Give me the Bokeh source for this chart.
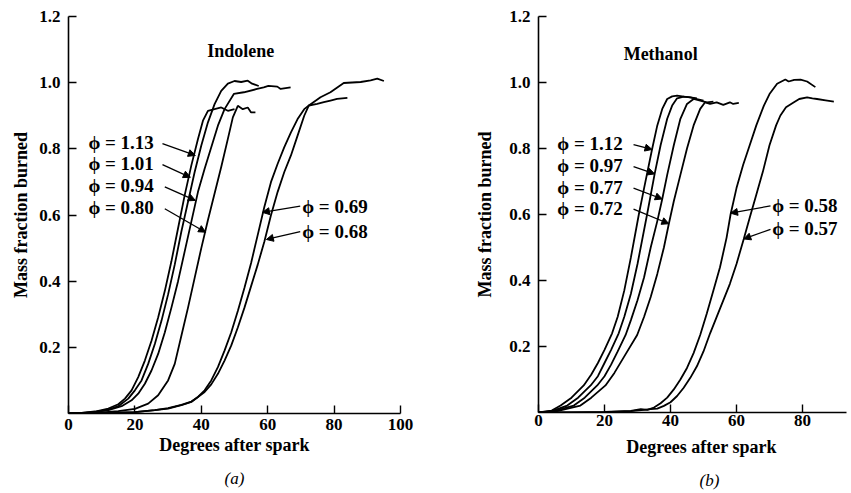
from bokeh.plotting import figure
from bokeh.layouts import row
from bokeh.models import (Arrow, NormalHead, Label, FixedTicker, Range1d,
                          LinearAxis, PrintfTickFormatter)
from bokeh.embed import file_html
from bokeh.resources import INLINE

FONT = "Liberation Serif"

# ---------------- Panel (a): Indolene ----------------
ind_113_deg = [0, 4, 8, 12, 15, 17, 19, 21, 23, 25, 27, 29, 31, 33, 35, 37, 39, 40.5, 42, 44, 46, 48, 50]
ind_113_mfb = [0, 0.002, 0.006, 0.015, 0.028, 0.045, 0.07, 0.11, 0.16, 0.22, 0.29, 0.37, 0.46, 0.56, 0.66, 0.75, 0.83, 0.885, 0.915, 0.92, 0.925, 0.915, 0.92]

ind_101_deg = [0, 4, 8, 12, 15, 18, 20, 22, 24, 26, 28, 30, 32, 34, 36, 38, 40, 42, 44, 46, 48, 50, 52, 54, 55.3, 57.3]
ind_101_mfb = [0, 0.002, 0.005, 0.012, 0.022, 0.045, 0.07, 0.1, 0.15, 0.21, 0.28, 0.36, 0.45, 0.55, 0.64, 0.73, 0.81, 0.88, 0.935, 0.975, 0.997, 1.005, 1.002, 1.006, 0.997, 0.99]

ind_094_deg = [0, 4, 8, 12, 16, 19, 21, 23, 25, 27, 29, 31, 33, 35, 37, 39, 41, 43, 45, 47, 49.8, 52.8, 56.8, 58.8, 60.2, 62.9, 63.9, 66.9]
ind_094_mfb = [0, 0.001, 0.004, 0.01, 0.022, 0.04, 0.06, 0.09, 0.13, 0.18, 0.245, 0.32, 0.4, 0.49, 0.58, 0.67, 0.74, 0.805, 0.87, 0.92, 0.966, 0.971, 0.981, 0.986, 0.99, 0.988, 0.981, 0.986]

ind_080_deg = [0, 5, 10, 15, 20, 24, 27, 30, 32, 34, 36, 38, 40, 42, 44, 46, 48, 49.5, 51, 52.5, 54, 55, 56.3]
ind_080_mfb = [0, 0.001, 0.003, 0.007, 0.014, 0.03, 0.055, 0.1, 0.15, 0.235, 0.32, 0.41, 0.5, 0.585, 0.665, 0.745, 0.83, 0.895, 0.93, 0.92, 0.925, 0.91, 0.91]

ind_069_deg = [0, 10, 20, 26, 30, 34, 37, 39, 41, 43, 45, 47, 49, 51, 53, 55, 57, 59, 61, 63, 65, 67, 69, 71, 72.4, 74.9, 76.9, 78.9, 80.9, 84]
ind_069_mfb = [0, 0.001, 0.004, 0.01, 0.015, 0.025, 0.035, 0.05, 0.07, 0.1, 0.14, 0.19, 0.245, 0.31, 0.38, 0.455, 0.54, 0.625, 0.7, 0.755, 0.805, 0.85, 0.89, 0.92, 0.931, 0.936, 0.941, 0.946, 0.951, 0.954]

ind_068_deg = [0, 10, 20, 26, 30, 34, 37, 39, 41, 43, 45, 47, 49, 51, 53, 55, 57, 59, 61, 63, 65, 67, 69, 71, 72.4, 75.9, 78.9, 82.9, 88, 91, 93, 95]
ind_068_mfb = [0, 0.001, 0.004, 0.01, 0.016, 0.026, 0.036, 0.05, 0.065, 0.088, 0.12, 0.16, 0.205, 0.26, 0.32, 0.385, 0.45, 0.52, 0.6, 0.67, 0.73, 0.78, 0.84, 0.9, 0.931, 0.956, 0.971, 0.999, 1.002, 1.007, 1.012, 1.005]

# ---------------- Panel (b): Methanol ----------------
met_112_deg = [0, 4, 6.7, 10, 13.7, 16, 18, 20, 22.3, 24, 26, 28, 30.4, 32, 34.4, 36, 37.5, 39, 40.5, 42, 44, 46, 48]
met_112_mfb = [0, 0.006, 0.021, 0.045, 0.082, 0.115, 0.15, 0.19, 0.24, 0.29, 0.37, 0.47, 0.6, 0.68, 0.797, 0.87, 0.92, 0.95, 0.958, 0.96, 0.957, 0.955, 0.952]

met_097_deg = [0, 4, 8.7, 12, 15.8, 18, 20, 22, 24.3, 26, 28, 30, 32.9, 35.2, 37, 39, 40.5, 42, 44, 46, 48, 50]
met_097_mfb = [0, 0.004, 0.021, 0.045, 0.082, 0.11, 0.15, 0.19, 0.24, 0.29, 0.36, 0.45, 0.6, 0.723, 0.81, 0.89, 0.93, 0.952, 0.957, 0.955, 0.95, 0.945]

met_077_deg = [0, 4, 10.7, 14, 17.8, 20, 22, 24, 26.4, 28, 30, 32, 34, 36, 37.5, 39, 41, 43, 45, 47, 49, 51, 53]
met_077_mfb = [0, 0.003, 0.021, 0.045, 0.082, 0.11, 0.145, 0.185, 0.235, 0.28, 0.34, 0.41, 0.5, 0.58, 0.647, 0.72, 0.81, 0.89, 0.935, 0.95, 0.945, 0.94, 0.942]

met_072_deg = [0, 5, 12.7, 16, 20.3, 23, 26, 29.9, 32, 34, 36, 38, 39.5, 41, 43, 45, 47, 49, 50.5, 52, 54, 56, 58, 59, 60.7]
met_072_mfb = [0, 0.003, 0.021, 0.045, 0.082, 0.12, 0.17, 0.235, 0.29, 0.35, 0.42, 0.5, 0.572, 0.64, 0.72, 0.8, 0.87, 0.92, 0.94, 0.935, 0.94, 0.932, 0.94, 0.935, 0.938]

met_058_deg = [0, 10, 20, 28, 31, 33, 35, 37, 39, 41, 43, 45, 47, 49, 51, 53, 55, 57, 58.2, 60, 62, 64, 66, 68.3, 70, 72.3, 74.8, 75.8, 77.5, 79.4, 81.4, 83.9]
met_058_mfb = [0, 0, 0.002, 0.005, 0.01, 0.008, 0.015, 0.028, 0.045, 0.07, 0.1, 0.135, 0.18, 0.235, 0.3, 0.37, 0.44, 0.53, 0.6, 0.68, 0.75, 0.81, 0.87, 0.93, 0.965, 0.996, 1.009, 1.003, 1.008, 1.009, 1.003, 0.986]

met_057_deg = [0, 20, 28, 32, 34, 36, 38, 40, 42, 44, 46, 48, 50, 52, 54, 56, 58, 60, 62.2, 64, 66, 68, 70, 72, 73.3, 75, 77.4, 79, 81.4, 83, 84.4, 87, 89.5]
met_057_mfb = [0, 0.001, 0.004, 0.008, 0.01, 0.012, 0.02, 0.031, 0.05, 0.075, 0.105, 0.14, 0.185, 0.24, 0.29, 0.34, 0.39, 0.45, 0.526, 0.59, 0.66, 0.73, 0.81, 0.87, 0.9, 0.925, 0.94, 0.95, 0.955, 0.952, 0.95, 0.946, 0.942]

x_ticks = [0, 20, 40, 60, 80, 100]
y_ticks = [0.2, 0.4, 0.6, 0.8, 1.0, 1.2]

# annotation labels: (text, label x, label y, arrow start x, arrow start y, tip x, tip y)
ind_labels = [
    ("\u03d5 = 1.13", 6.0, 0.819, 28.3, 0.816, 38.2, 0.78),
    ("\u03d5 = 1.01", 6.0, 0.755, 28.3, 0.752, 36.7, 0.714),
    ("\u03d5 = 0.94", 6.0, 0.689, 29.0, 0.685, 38.2, 0.644),
    ("\u03d5 = 0.80", 6.0, 0.624, 29.0, 0.619, 41.3, 0.548),
    ("\u03d5 = 0.69", 70.4, 0.627, 69.8, 0.627, 58.4, 0.608),
    ("\u03d5 = 0.68", 70.4, 0.550, 69.8, 0.550, 59.6, 0.526),
]
met_labels = [
    ("\u03d5 = 1.12", 5.7, 0.814, 28.8, 0.812, 34.4, 0.797),
    ("\u03d5 = 0.97", 5.7, 0.748, 28.8, 0.745, 35.2, 0.723),
    ("\u03d5 = 0.77", 5.7, 0.683, 28.8, 0.680, 37.5, 0.647),
    ("\u03d5 = 0.72", 5.7, 0.619, 28.8, 0.616, 39.5, 0.572),
    ("\u03d5 = 0.58", 70.8, 0.627, 70.3, 0.626, 58.2, 0.604),
    ("\u03d5 = 0.57", 70.8, 0.557, 70.3, 0.555, 62.2, 0.526),
]


def make_panel(x_max, frame_w, frame_h, bl, br, bt, bb, title_text, title_xy,
               curves, labels, xlab, tick_sd, xlab_sd, tag, tag_sd, ylab_standoff):
    p = figure(frame_width=frame_w, frame_height=frame_h,
               x_range=Range1d(0, x_max), y_range=Range1d(0, 1.2),
               output_backend="svg", toolbar_location=None,
               min_border_left=bl, min_border_right=br,
               min_border_top=bt, min_border_bottom=bb)
    p.outline_line_color = None
    p.grid.visible = False
    p.background_fill_color = "white"
    p.border_fill_color = "white"

    for ax in (p.xaxis[0], p.yaxis[0]):
        ax.axis_line_width = 1.6
        ax.axis_line_color = "black"
        ax.major_tick_in = 8
        ax.major_tick_out = 0
        ax.major_tick_line_width = 1.4
        ax.major_tick_line_color = "black"
        ax.minor_tick_line_color = None
        ax.major_label_text_font = FONT
        ax.major_label_text_font_size = "17px"
        ax.major_label_text_font_style = "bold"
        ax.major_label_text_color = "black"
        ax.axis_label_text_font = FONT
        ax.axis_label_text_font_size = "18px"
        ax.axis_label_text_font_style = "bold"
        ax.axis_label_text_color = "black"
    p.xaxis.ticker = FixedTicker(ticks=x_ticks)
    p.yaxis.ticker = FixedTicker(ticks=y_ticks)
    p.yaxis.formatter = PrintfTickFormatter(format="%.1f")
    p.xaxis.major_label_standoff = tick_sd
    p.yaxis.major_label_standoff = 8
    p.yaxis.axis_label = "Mass fraction burned"
    p.yaxis.axis_label_standoff = ylab_standoff
    p.xaxis.axis_label = xlab
    p.xaxis.axis_label_standoff = xlab_sd

    tag_axis = LinearAxis(ticker=FixedTicker(ticks=[]), axis_line_color=None,
                          major_tick_line_color=None, minor_tick_line_color=None,
                          major_label_text_font_size="0px",
                          axis_label=tag, axis_label_standoff=tag_sd,
                          axis_label_text_font=FONT, axis_label_text_font_size="17px",
                          axis_label_text_font_style="italic",
                          axis_label_text_color="black")
    p.add_layout(tag_axis, "below")

    for xs, ys in curves:
        p.line(xs, ys, line_color="black", line_width=1.8)

    for text, lx, ly, sx, sy, tx, ty in labels:
        p.add_layout(Label(x=lx, y=ly, text=text, text_font=FONT,
                           text_font_size="19px", text_font_style="bold",
                           text_color="black",
                           text_align="left", text_baseline="middle"))
        p.add_layout(Arrow(end=NormalHead(size=7, fill_color="black", line_color="black"),
                           x_start=sx, y_start=sy, x_end=tx, y_end=ty,
                           line_color="black", line_width=1.3))

    p.add_layout(Label(x=title_xy[0], y=title_xy[1], text=title_text, text_font=FONT,
                       text_font_size="18px", text_font_style="bold",
                       text_color="black",
                       text_align="left", text_baseline="middle"))
    return p


pa = make_panel(100, 332, 397, 68, 30, 16, 77, "Indolene", (41.8, 1.097),
                [(ind_113_deg, ind_113_mfb), (ind_101_deg, ind_101_mfb),
                 (ind_094_deg, ind_094_mfb), (ind_080_deg, ind_080_mfb),
                 (ind_069_deg, ind_069_mfb), (ind_068_deg, ind_068_mfb)],
                ind_labels, "Degrees after spark", 5, 2, "(a)", 11, 5)

pb = make_panel(308 / 3.3, 308, 396, 108, 2, 11, 83, "Methanol", (25.8, 1.087),
                [(met_112_deg, met_112_mfb), (met_097_deg, met_097_mfb),
                 (met_077_deg, met_077_mfb), (met_072_deg, met_072_mfb),
                 (met_058_deg, met_058_mfb), (met_057_deg, met_057_mfb)],
                met_labels, "\u2002\u2002Degrees after spark", 2, 8,
                "\u2002\u2002\u2002\u2002(b)", 11, 11)

layout = row(pa, pb)
open("out.html", "w").write(file_html(layout, INLINE))
